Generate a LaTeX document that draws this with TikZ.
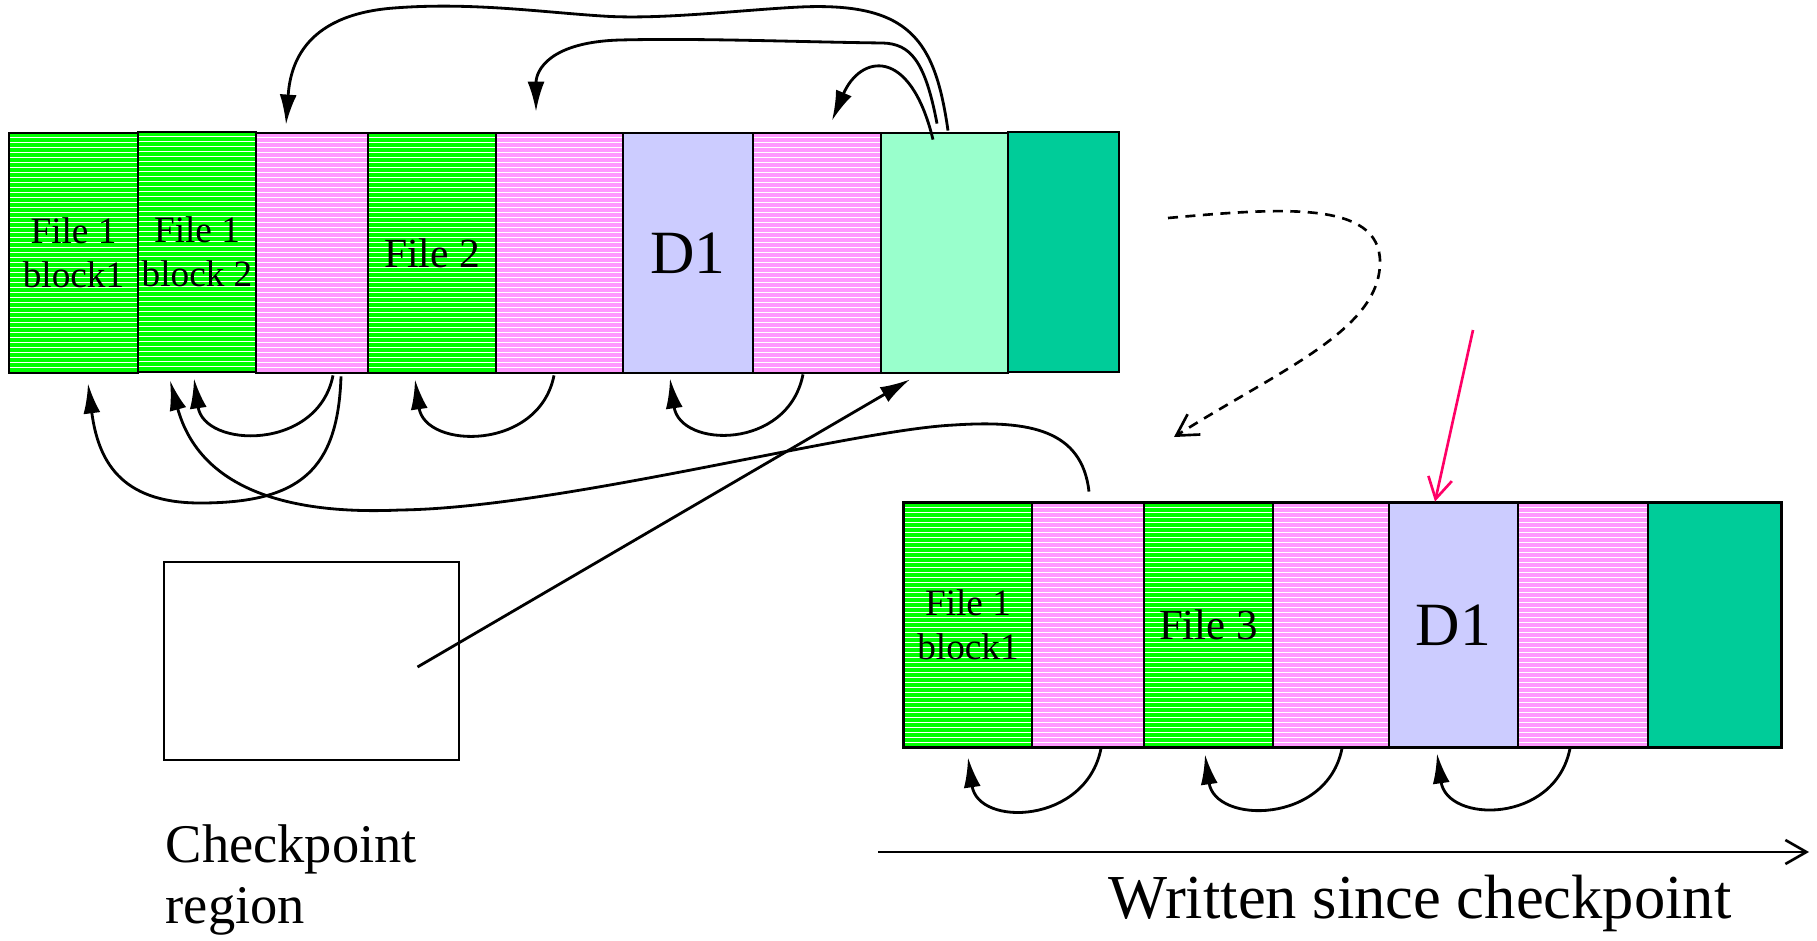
\documentclass[tikz,border=0pt]{standalone}
\usepackage{fontspec}
\setmainfont{Liberation Serif}
\usetikzlibrary{arrows.meta,calc}

\definecolor{cgreen}{HTML}{00FF00}
\definecolor{cpink}{HTML}{FF99FF}
\definecolor{clav}{HTML}{CCCCFF}
\definecolor{cmint}{HTML}{99FFCC}
\definecolor{cteal}{HTML}{00CC99}
\definecolor{cred}{HTML}{FF0066}

\tikzset{
  blk/.style={draw=black, line width=0.8pt, minimum height=24mm, inner sep=0pt,
    align=center, font=\fontsize{10.6}{12.4}\selectfont},
  striped/.style={path picture={
    \foreach \k in {1,...,50}{
      \draw[white, line width=0.28pt]
        ([yshift={-\k*0.5mm+0.1mm}]path picture bounding box.north west) --
        ([yshift={-\k*0.5mm+0.1mm}]path picture bounding box.north east);}}},
  gblk/.style={blk, striped, fill=cgreen},
  pblk/.style={blk, striped, fill=cpink},
  link/.style={draw, line width=0.8pt, -{Latex[length=3mm,width=1.7mm]}},
  openhead/.style={line width=0.75pt, -{Straight Barb[length=2.1mm,width=2.4mm]}},
}

\begin{document}
\begin{tikzpicture}[x=0.1mm, y=-0.1mm]
\useasboundingbox (0,0) rectangle (1817,940);

% ---- segment on disk before cleaning ----
\node[gblk, minimum width=12.9mm] (t1) at (73.5,253) {File 1\\block1};
\node[gblk, minimum width=11.8mm] (t2) at (197,252) {File 1\\block 2};
\node[pblk, minimum width=11.2mm] (t3) at (312,253) {};
\node[gblk, minimum width=12.8mm, font=\fontsize{11.8}{13}\selectfont] (t4) at (432,253) {File 2};
\node[pblk, minimum width=12.7mm] (t5) at (559.5,253) {};
\node[blk, fill=clav, minimum width=13mm, font=\fontsize{17.5}{19}\selectfont] (t6) at (688,253) {D1};
\node[pblk, minimum width=12.8mm] (t7) at (817,253) {};
\node[blk, fill=cmint, minimum width=12.7mm] (t8) at (944.5,253) {};
\node[blk, fill=cteal, minimum width=11.1mm] (t9) at (1063.5,252) {};

% ---- log written since the checkpoint ----
\node[gblk, minimum width=12.8mm, minimum height=24.4mm] (b1) at (968,625) {File 1\\block1};
\node[pblk, minimum width=11.2mm, minimum height=24.4mm] (b2) at (1088,625) {};
\node[gblk, minimum width=12.9mm, minimum height=24.4mm, font=\fontsize{12.2}{14}\selectfont] (b3) at (1208.5,625) {File 3};
\node[pblk, minimum width=11.6mm, minimum height=24.4mm] (b4) at (1331,625) {};
\node[blk, fill=clav, minimum width=12.9mm, minimum height=24.4mm, font=\fontsize{17.5}{19}\selectfont] (b5) at (1453.5,625) {D1};
\node[pblk, minimum width=13mm, minimum height=24.4mm] (b6) at (1583,625) {};
\node[blk, fill=cteal, minimum width=13.3mm, minimum height=24.4mm] (b7) at (1714.5,625) {};
\draw[line width=0.6pt] (b1.north west) rectangle (b7.south east);

% ---- checkpoint region ----
\node[draw, line width=0.7pt, minimum width=29.5mm, minimum height=19.8mm] (cp) at (311.5,661) {};
\node[anchor=base west, inner sep=0pt, font=\fontsize{15.5}{17.4}\selectfont] (cpl1) at (165,862) {Checkpoint};
\node[anchor=base west, inner sep=0pt, font=\fontsize{15.5}{17.4}\selectfont] (cpl2) at (165,923) {region};

% ---- pointers over the top of the segment ----
\draw[link] ($(t8.north)+(3.5,-1)$) .. controls (935,40) and (910,2) .. (800,7)
  .. controls (740,10) and (660,20) .. (602,16)
  .. controls (540,12) and (470,2) .. (394,8)
  .. controls (300,15) and (290,70) .. ($(t3.north)+(-26,-7)$);
\draw[link] ($(t8.north)+(-7.5,-8)$) .. controls (925,60) and (910,44) .. (883,43)
  .. controls (800,42) and (700,38) .. (620,40)
  .. controls (550,42) and (536,70) .. ($(t5.north)+(-23.5,-20)$);
\draw[link] ($(t8.north)+(-11.5,8)$) .. controls (910,45) and (860,55) .. ($(t7.north)+(15,-11)$);

% ---- short back pointers below the segment ----
\draw[link] ($(t3.south)+(21,1)$) .. controls +(-15,76) and +(10,70) .. ($(t2.south)+(-3,5)$);
\draw[link] ($(t5.south)+(-5.5,1)$) .. controls +(-15,76) and +(10,70) .. ($(t4.south)+(-17,5)$);
\draw[link] ($(t7.south)+(-14,0)$) .. controls +(-15,76) and +(10,70) .. ($(t6.south)+(-18,4)$);
\draw[link] ($(b2.south)+(13,0)$) .. controls +(-15,76) and +(10,70) .. ($(b1.south)+(0,9)$);
\draw[link] ($(b4.south)+(11,0)$) .. controls +(-15,76) and +(10,70) .. ($(b3.south)+(-3.5,6)$);
\draw[link] ($(b6.south)+(-13,0)$) .. controls +(-15,76) and +(10,70) .. ($(b5.south)+(-16.5,5)$);

% ---- long pointers ----
\draw[link] ($(t3.south)+(29,2)$) .. controls (338,470) and (300,503) .. (200,503)
  .. controls (120,503) and (98,460) .. ($(t1.south)+(14.5,9)$);
\draw[link] ($(b2.north)+(1,-10)$) .. controls (1082,430) and (1030,420) .. (954,425)
  .. controls (850,430) and (560,508) .. (400,510)
  .. controls (290,515) and (200,490) .. ($(t2.south)+(-27,7)$);
\coordinate (cpin) at ($(cp.center)+(106,6)$);
\draw[link] (cpin) -- ($(t8.south)+(-34.5,5)$);

% ---- cleaning step and write position ----
\coordinate (ds) at (1168,218);
\coordinate (de) at (1174,437);
\draw[openhead, dash pattern=on 1mm off 0.75mm] (ds) .. controls (1280,208) and (1380,200) .. (1380,262)
  .. controls (1380,330) and (1280,370) .. (de);
\coordinate (rs) at (1473,330);
\draw[openhead, cred] (rs) -- ($(b5.north)+(-18.5,0)$);

% ---- time axis ----
\coordinate (ax0) at (878,852);
\coordinate (ax1) at (1809,852);
\draw[openhead] (ax0) -- (ax1);
\node[anchor=base, inner sep=0pt, font=\fontsize{17.8}{20}\selectfont] (axl) at (1420,918) {Written since checkpoint};
\end{tikzpicture}
\end{document}
